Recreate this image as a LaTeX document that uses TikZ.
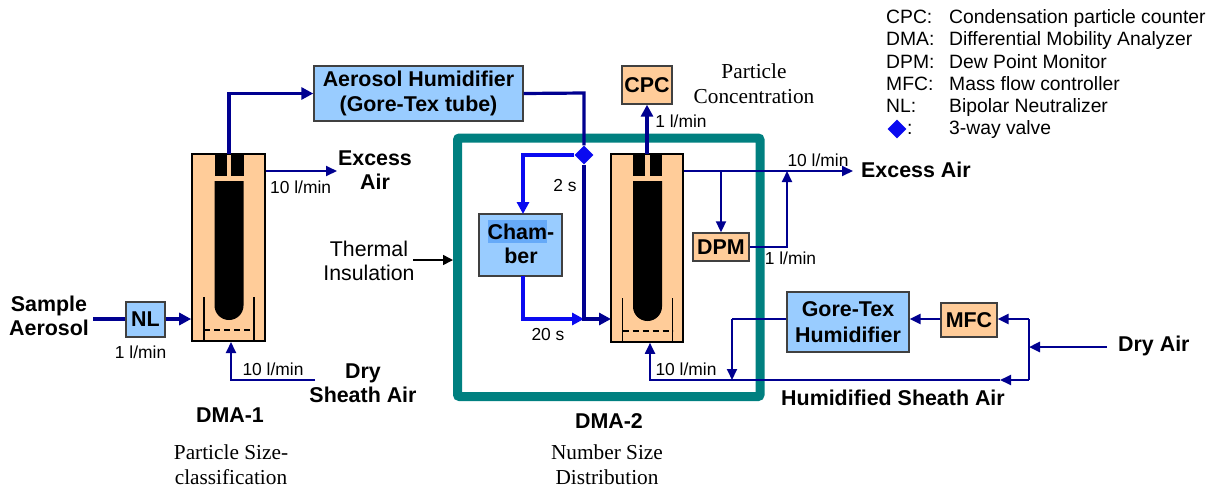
\documentclass[tikz,border=0pt]{standalone}
\usepackage{fontspec}
\setmainfont{Liberation Sans}
\newfontfamily\serifx{Liberation Serif}
\usetikzlibrary{arrows.meta,shapes.geometric}
\definecolor{peach}{HTML}{FFCC99}
\definecolor{sky}{HTML}{99CCFF}
\definecolor{navyx}{HTML}{000090}
\definecolor{brightb}{HTML}{0A0AF0}
\definecolor{tealx}{HTML}{008080}
\definecolor{hilite}{HTML}{66AAF8}
\tikzset{
 x=1pt,y=-1pt,
 tip/.style={-{Triangle[length=11pt,width=10pt]}},
 bigtip/.style={-{Triangle[length=12pt,width=12pt]}},
 thin flow/.style={navyx,line width=1.9pt},
 mid flow/.style={navyx,line width=2.5pt},
 thick flow/.style={navyx,line width=3.2pt},
 blue flow/.style={brightb,line width=3.2pt},
 box/.style={draw=black!75,line width=1.4pt,inner sep=0pt,align=center,font=\fontsize{21.4}{25.5}\selectfont\bfseries,text=black},
 orangebox/.style={box,fill=peach},
 bluebox/.style={box,fill=sky},
 dmabox/.style={draw=black,line width=1.6pt,fill=peach,inner sep=0pt},
 lbl/.style={inner sep=0pt,font=\fontsize{17.4}{20}\selectfont,text=black},
 bold/.style={inner sep=0pt,align=center,font=\fontsize{21.4}{24.5}\selectfont\bfseries,text=black},
 serifl/.style={inner sep=0pt,align=center,font=\serifx\fontsize{21.3}{25}\selectfont,text=black},
 plain/.style={inner sep=0pt,align=center,font=\fontsize{21.3}{24}\selectfont,text=black},
 legend/.style={inner sep=0pt,anchor=base west,font=\fontsize{19.3}{22}\selectfont,text=black},
 valve/.style={diamond,fill=brightb,inner sep=0pt,minimum width=19pt,minimum height=19pt},
}
\newcommand{\internals}[3]{% centre x, top y, bottom y
 \fill[black] (#1-14.5,#2) rectangle (#1-2.5,#2+22);
 \fill[black] (#1+2,#2) rectangle (#1+14.5,#2+22);
 \fill[black] (#1-14.5,#2+27) -- (#1+14.5,#2+27) -- (#1+14.5,#3-35.5) arc[start angle=0,end angle=-180,x radius=14.5pt,y radius=14.5pt] -- cycle;
 \draw[black,line width=1.1pt] (#1-25,#3-44) -- (#1-25,#3) (#1+25,#3-44) -- (#1+25,#3);
 \draw[black,line width=1.2pt,dash pattern=on 6pt off 4pt] (#1-25,#3-11) -- (#1+25,#3-11);
}
\begin{document}
\begin{tikzpicture}
\useasboundingbox (0,0) rectangle (1216,491);
\fill[white] (0,0) rectangle (1216,491);
% insulation
\draw[tealx,line width=9pt,rounded corners=2pt] (457.5,138) rectangle (760,396.5);
% DMAs
\node[dmabox,minimum width=73pt,minimum height=187pt] (dmaone) at (228.5,247.5) {};
\internals{229}{154}{341}
\node[dmabox,minimum width=72pt,minimum height=188pt] (dmatwo) at (647,248) {};
\internals{647.5}{154}{342}
% boxes
\node[bluebox,minimum width=39pt,minimum height=35pt] (nl) at (145.5,319.5) {NL};
\node[bluebox,minimum width=209pt,minimum height=55pt] (aero) at (418.5,93.5) {Aerosol Humidifier\\(Gore-Tex tube)};
\node[orangebox,minimum width=50pt,minimum height=38pt] (cpc) at (647,85) {CPC};
\node[bluebox,minimum width=83pt,minimum height=62pt] (chamber) at (520.5,245) {};
\fill[hilite] (488,220) rectangle (547,243);
\node[inner sep=0pt,align=center,font=\fontsize{21.4}{24.5}\selectfont\bfseries] (chamtext) at (521,244) {Cham-\\ber};
\node[orangebox,minimum width=56pt,minimum height=28pt] (dpm) at (721,247) {DPM};
\node[bluebox,minimum width=122pt,minimum height=60pt] (gore) at (848,322) {Gore-Tex\\Humidifier};
\node[orangebox,minimum width=56pt,minimum height=34pt] (mfc) at (969,320) {MFC};
% free ends / junctions
\coordinate (sampleend) at (93,319);
\coordinate (exone) at (337,171);
\coordinate (sheathstart) at (315,380);
\coordinate (sheathone) at (231,342);
\coordinate (dmaoneout) at (229,154);
\coordinate (aeroturn) at (584,93);
\coordinate (join) at (584,319);
\coordinate (extwo) at (853,171);
\coordinate (split) at (1029,347);
\coordinate (dryend) at (1107,347);
\coordinate (upper) at (1029,319);
\coordinate (lower) at (1029,380);
\coordinate (midtip) at (1000,380);
\coordinate (sheathin) at (650,380);
\coordinate (goreturn) at (732,319);
\coordinate (merge) at (732,380);
\coordinate (dpmtap) at (721,171);
\coordinate (dpmmerge) at (787,171);
\coordinate (dpmturn) at (787,247);
\coordinate (dmatwoin) at (611,319);
\coordinate (dmatwotop) at (647,154);
\coordinate (chamin) at (523,214);
\coordinate (chamout) at (523,276);
\node[valve] (vv) at (584,155) {};
% DMA-1 connectors
\draw[thick flow] (sampleend) -- (nl.west |- sampleend);
\draw[thick flow,bigtip] (nl.east |- sampleend) -- (dmaone.west |- sampleend);
\draw[thin flow,tip] (dmaone.east |- exone) -- (exone);
\draw[thin flow,tip] (sheathstart) -| (sheathone);
\draw[thick flow,bigtip] (dmaoneout) |- (aero.west);
% DMA-2 connectors
\draw[thick flow] (aero.east) -- (aeroturn) -- (vv.north);
\draw[blue flow,bigtip] (vv.west) -| (chamin);
\draw[blue flow,bigtip] (chamout) |- (join);
\draw[thick flow,bigtip] (vv.south) -- (join) -- (dmatwoin);
\draw[thick flow,bigtip] (dmatwotop) -- (cpc.south);
\draw[thin flow,tip] (dmatwo.east |- extwo) -- (extwo);
\draw[thin flow,tip] (dpmtap) -- (dpm.north);
\draw[thin flow,tip] (dpm.east) -- (dpmturn) -- (dpmmerge);
% right side
\draw[mid flow,tip] (dryend) -- (split);
\draw[mid flow] (upper) -- (lower);
\draw[mid flow,tip] (upper) -- (mfc.east |- upper);
\draw[mid flow,tip] (mfc.west |- upper) -- (gore.east |- upper);
\draw[thin flow] (gore.west |- upper) -- (goreturn);
\draw[thin flow,tip] (goreturn) -- (merge);
\draw[thin flow,tip] (lower) -- (midtip);
\draw[thin flow,tip] (midtip) -- (sheathin) -- (dmatwo.south -| sheathin);
% thermal
\coordinate (thermalstart) at (413,260);
\draw[black,line width=1.5pt,-{Triangle[length=10pt,width=10pt]}] (thermalstart) -- (453,260);
% labels
\node[bold] (sample) at (49,316) {Sample\\Aerosol};
\node[lbl] (l1) at (140.6,352) {1 l/min};
\node[lbl] (l2) at (300.6,187) {10 l/min};
\node[bold] (exc) at (375,170) {Excess\\Air};
\node[lbl] (l3) at (273,369) {10 l/min};
\node[bold] (dry) at (363,383) {Dry\\Sheath Air};
\node[bold] (dmaonel) at (230,415) {DMA-1};
\node[serifl] (psc) at (231,465) {Particle Size-\\classification};
\node[plain] (ti) at (369,261) {Thermal\\Insulation};
\node[serifl] (pc) at (754,83.5) {Particle\\Concentration};
\node[lbl] (l4) at (681,121) {1 l/min};
\node[lbl] (l5) at (565,186) {2 s};
\node[lbl] (l6) at (548,335) {20 s};
\node[lbl] (l7) at (818,160) {10 l/min};
\node[bold,anchor=west] (ex2) at (861,170) {Excess Air};
\node[lbl] (l8) at (790.5,258) {1 l/min};
\node[lbl] (l9) at (686,369) {10 l/min};
\node[bold] (hs) at (893,398) {Humidified Sheath Air};
\node[bold,anchor=west] (da) at (1118,346) {Dry Air};
\node[bold] (dmatwol) at (609,421) {DMA-2};
\node[serifl] (nsd) at (607,465) {Number Size\\Distribution};
% legend
\node[legend] (a1) at (886,23) {CPC:};
\node[legend] (b1) at (949,23) {Condensation particle counter};
\node[legend] (a2) at (886,45) {DMA:};
\node[legend] (b2) at (949,45) {Differential Mobility Analyzer};
\node[legend] (a3) at (886,68) {DPM:};
\node[legend] (b3) at (949,68) {Dew Point Monitor};
\node[legend] (a4) at (886,90) {MFC:};
\node[legend] (b4) at (949,90) {Mass flow controller};
\node[legend] (a5) at (886,112) {NL:};
\node[legend] (b5) at (949,112) {Bipolar Neutralizer};
\node[valve] (lv) at (897,129) {};
\node[legend] (a6) at (907,134) {:};
\node[legend] (b6) at (949,134) {3-way valve};
\end{tikzpicture}
\end{document}
